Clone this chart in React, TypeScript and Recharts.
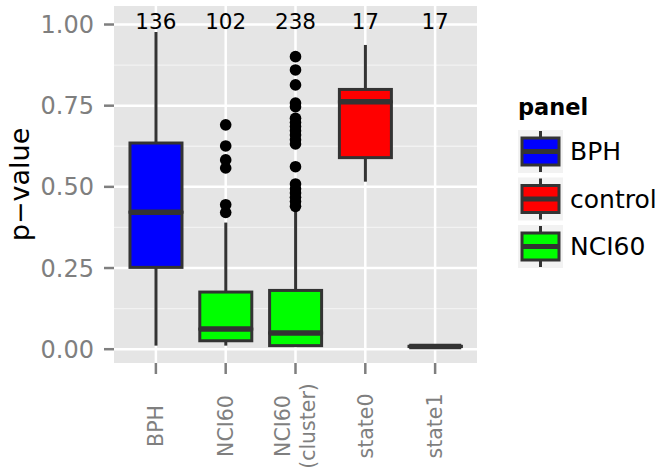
import { Bar, CartesianGrid, ComposedChart, Scatter, XAxis, YAxis } from 'recharts'
import { JSX } from 'react'

const FONT = '"DejaVu Sans", "Liberation Sans", sans-serif'
const OUTLINE = '#333333'
const TICK_GREY = '#7F7F7F'

// one entry per box, left to right
const groups = ['BPH', 'NCI60', 'NCI60\n(cluster)', 'state0', 'state1']
const panels = ['BPH', 'NCI60', 'NCI60', 'control', 'control']
const counts = [136, 102, 238, 17, 17]
const whiskerLow = [0.011, 0.011, 0.01, 0.516, 0.008]
const q1 = [0.252, 0.026, 0.011, 0.59, 0.008]
const median = [0.422, 0.062, 0.05, 0.762, 0.0085]
const q3 = [0.635, 0.176, 0.181, 0.8, 0.009]
const whiskerHigh = [0.977, 0.39, 0.432, 0.937, 0.009]

// outlying points, per box
const outliers: number[][] = [
  [],
  [0.691, 0.626, 0.583, 0.558, 0.445, 0.421],
  [0.901, 0.86, 0.814, 0.758, 0.747, 0.711, 0.698, 0.686, 0.673, 0.66, 0.645, 0.632, 0.562, 0.509, 0.494, 0.481, 0.468, 0.455, 0.44],
  [],
  [],
]

const legendLabels = ['BPH', 'control', 'NCI60']
const panelColors: Record<string, string> = { BPH: '#0000FF', control: '#FF0000', NCI60: '#00FF00' }

const yTicks = [0, 0.25, 0.5, 0.75, 1]
const yMinor = [0.125, 0.375, 0.625, 0.875]

const boxData = groups.map((g, i) => ({
  x: i + 1,
  group: g,
  panel: panels[i],
  base: whiskerLow[i],
  lowWhisker: q1[i] - whiskerLow[i],
  lowBox: median[i] - q1[i],
  highBox: q3[i] - median[i],
  highWhisker: whiskerHigh[i] - q3[i],
}))

const outlierData = outliers.flatMap((vals, i) => vals.map((v) => ({ x: i + 1, y: v })))
const countData = counts.map((n, i) => ({ x: i + 1, y: 1, n }))

const Empty = (): JSX.Element => <g />

const Whisker = (props: any): JSX.Element => {
  const { x, y, width, height } = props
  const cx = x + width / 2
  return <line x1={cx} x2={cx} y1={y} y2={y + height} stroke={OUTLINE} strokeWidth={3} />
}

const LowBox = (props: any): JSX.Element => {
  const { x, y, width, height, payload } = props
  return (
    <rect x={x} y={y} width={width} height={Math.max(height, 0.1)} fill={panelColors[payload.panel]}
      stroke={OUTLINE} strokeWidth={3} />
  )
}

const HighBox = (props: any): JSX.Element => {
  const { x, y, width, height, payload } = props
  return (
    <g>
      <rect x={x} y={y} width={width} height={Math.max(height, 0.1)} fill={panelColors[payload.panel]}
        stroke={OUTLINE} strokeWidth={3} />
      <line x1={x} x2={x + width} y1={y + height} y2={y + height} stroke={OUTLINE} strokeWidth={5.5} />
    </g>
  )
}

const GroupTick = (props: any): JSX.Element => {
  const { x, y, payload } = props
  const lines = groups[payload.value - 1].split('\n')
  const cy = y + 50
  return (
    <text x={x} y={cy} transform={`rotate(-90, ${x}, ${cy})`} textAnchor="middle" fill={TICK_GREY}
      fontSize={20.5} fontFamily={FONT}>
      {lines.map((l, i) => (
        <tspan key={l} x={x} dy={lines.length === 1 ? '0.36em' : i === 0 ? '-0.28em' : '1.25em'}>{l}</tspan>
      ))}
    </text>
  )
}

const ValueTick = (props: any): JSX.Element => {
  const { x, y, payload } = props
  return (
    <text x={x} y={y} dy="0.36em" textAnchor="end" fill={TICK_GREY} fontSize={24} fontFamily={FONT}>
      {Number(payload.value).toFixed(2)}
    </text>
  )
}

const YTitle = (props: any): JSX.Element => {
  const { viewBox } = props
  const x = viewBox.x + 29
  const y = viewBox.y + viewBox.height / 2
  return (
    <text x={x} y={y} transform={`rotate(-90, ${x}, ${y})`} textAnchor="middle" fontSize={27}
      fontFamily={FONT} fill="#000">p−value</text>
  )
}

const PanelLegend = (): JSX.Element => (
  <svg width={660} height={469} style={{ position: 'absolute', left: 0, top: 0, pointerEvents: 'none' }}>
    <text x={518} y={115} fontSize={22.5} fontWeight="bold" fontFamily={FONT}>panel</text>
    {legendLabels.map((lab, i) => {
      const top = 130 + i * 47.5
      return (
        <g key={lab}>
          <rect x={518} y={top} width={45} height={43} fill="#F2F2F2" />
          <line x1={540.5} x2={540.5} y1={top + 1} y2={top + 42} stroke={OUTLINE} strokeWidth={3} />
          <rect x={522} y={top + 8} width={37} height={27} fill={panelColors[lab]} stroke={OUTLINE} strokeWidth={3} />
          <line x1={522} x2={559} y1={top + 21.5} y2={top + 21.5} stroke={OUTLINE} strokeWidth={5} />
          <text x={570} y={top + 21.5} dominantBaseline="central" fontSize={25} fontFamily={FONT}>{lab}</text>
        </g>
      )
    })}
  </svg>
)

export default function App(): JSX.Element {
  return (
    <div style={{ position: 'absolute', left: 0, top: 0, width: 660, height: 469, background: '#fff' }}>
      <ComposedChart width={660} height={469} data={boxData} margin={{ top: 6, right: 183, bottom: 0, left: 0 }}>
        <CartesianGrid fill="#E5E5E5" stroke="#F2F2F2" strokeWidth={1.3} horizontalValues={yMinor} vertical={false} />
        <CartesianGrid stroke="#FFFFFF" strokeWidth={2.5} horizontalValues={yTicks}
          verticalValues={groups.map((_, i) => i + 1)} />
        <XAxis dataKey="x" type="number" domain={[0.4, 5.6]} allowDataOverflow ticks={groups.map((_, i) => i + 1)}
          interval={0} axisLine={false} tickSize={11} height={106}
          tickLine={{ stroke: TICK_GREY, strokeWidth: 2.5 }} tick={<GroupTick />} />
        <YAxis type="number" domain={[-0.0425, 1.057]} allowDataOverflow ticks={yTicks} interval={0}
          width={114} axisLine={false} tickSize={10} tickMargin={10}
          tickLine={{ stroke: TICK_GREY, strokeWidth: 2.5 }}
          tick={<ValueTick />} label={{ content: YTitle }} />
        <Bar dataKey="base" stackId="box" barSize={52} shape={<Empty />} isAnimationActive={false} />
        <Bar dataKey="lowWhisker" stackId="box" barSize={52} shape={<Whisker />} isAnimationActive={false} />
        <Bar dataKey="lowBox" stackId="box" barSize={52} shape={<LowBox />} isAnimationActive={false} />
        <Bar dataKey="highBox" stackId="box" barSize={52} shape={<HighBox />} isAnimationActive={false} />
        <Bar dataKey="highWhisker" stackId="box" barSize={52} shape={<Whisker />} isAnimationActive={false} />
        <Scatter data={outlierData} dataKey="y" isAnimationActive={false}
          shape={(p: any) => <circle cx={p.cx} cy={p.cy} r={5.8} fill="#000" />} />
        <Scatter data={countData} dataKey="y" isAnimationActive={false}
          shape={(p: any) => (
            <text x={p.cx} y={p.cy} dy="0.2em" textAnchor="middle" fontSize={21.5} fontFamily={FONT} fill="#000">
              {p.payload.n}
            </text>
          )} />
      </ComposedChart>
      <PanelLegend />
    </div>
  )
}
